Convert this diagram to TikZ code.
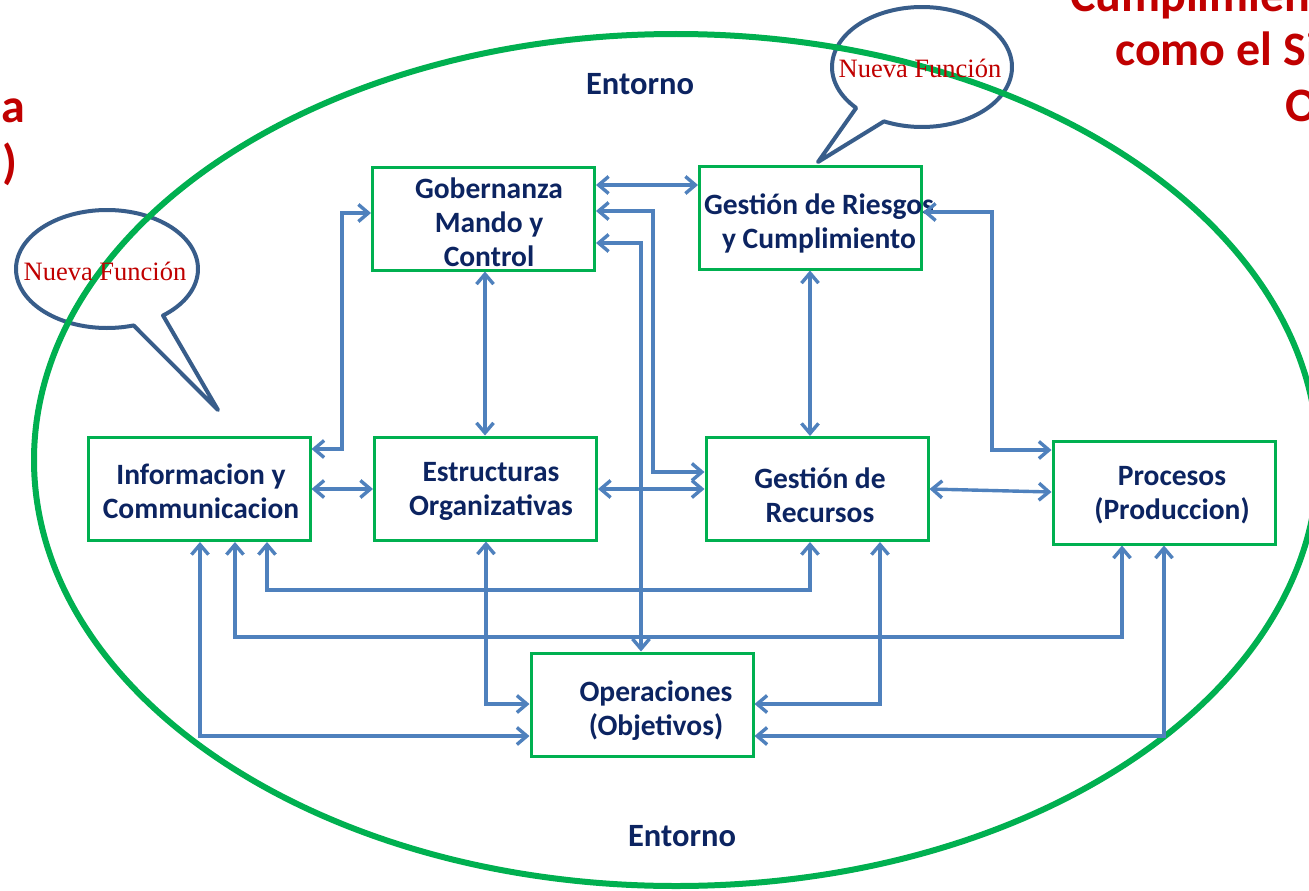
\documentclass[tikz,border=0pt]{standalone}
\usepackage{fontspec}
\setmainfont{Carlito}
\newfontfamily\tnrfont{Liberation Serif}
\usetikzlibrary{arrows.meta}
\definecolor{boxgreen}{HTML}{00B050}
\definecolor{arrblue}{HTML}{4F81BD}
\definecolor{navy}{HTML}{0C2461}
\definecolor{calloutblue}{HTML}{385D8A}
\definecolor{darkred}{HTML}{C00000}
\tikzset{
  box/.style={draw=boxgreen, line width=3pt, minimum width=222pt, minimum height=103pt, inner sep=0pt},
  lbl/.style={text=navy, font=\bfseries\fontsize{29.5}{34}\selectfont, align=center, inner sep=0pt},
  env/.style={text=navy, font=\bfseries\fontsize{32.5}{38}\selectfont, inner sep=0pt},
  dbl/.style={draw=arrblue, line width=3.4pt, line join=miter,
    {Straight Barb[length=10pt,width=17pt]}-{Straight Barb[length=10pt,width=17pt]}},
  callout/.style={draw=calloutblue, line width=4pt, line join=round},
  nf/.style={text=darkred, font=\tnrfont\fontsize{26.5}{30}\selectfont, inner sep=0pt},
  frag/.style={text=darkred, font=\bfseries\fontsize{48}{55}\selectfont, inner sep=0pt, anchor=base west}
}
\begin{document}
\begin{tikzpicture}[x=1pt,y=-1pt]
\useasboundingbox (0,0) rectangle (1309,891);
\clip (0,0) rectangle (1309,891);
\fill[white] (0,0) rectangle (1309,891);

% red text fragments (cut by the frame)
\node[frag] (r1) at (1070,12) {Cumplimien};
\node[frag] (r2) at (1115,66) {como el Si};
\node[frag] (r3) at (1285,121) {O};
\node[frag] (l1) at (1,122) {a};
\node[frag] (l2) at (2,178) {)};

% callouts
\draw[callout] plot[domain=73:412, samples=120, smooth] ({107+91*cos(\x)}, {269+59*sin(\x)}) -- (218,410) -- cycle;
\draw[callout] plot[domain=137:475, samples=120, smooth] ({922+90*cos(\x)}, {67+60*sin(\x)}) -- (818,162) -- cycle;

% environment ellipse
\draw[boxgreen, line width=6pt] (676,460) ellipse [x radius=642pt, y radius=426pt];

\node[nf] (nf1) at (105,271) {Nueva Función};
\node[nf] (nf2) at (920,68) {Nueva Función};

\node[env] (ent1) at (640,84) {Entorno};
\node[env] (ent2) at (682,836) {Entorno};

% boxes
\node[box] (gob) at (483.5,218.5) {};
\node[box] (rie) at (810.5,217.5) {};
\node[box] (inf) at (199,489) {};
\node[box] (est) at (485.5,488.5) {};
\node[box] (rec) at (817,489) {};
\node[box] (pro) at (1164,492.5) {};
\node[box] (ope) at (642,704.5) {};

\node[lbl] (gobT) at (489,222) {Gobernanza\\Mando y\\Control};
\node[lbl] (rieT) at (819,223) {Gestión de Riesgos\\ y Cumplimiento};
\node[lbl] (infT) at (201,491) {Informacion y\\Communicacion};
\node[lbl] (estT) at (491,491) {Estructuras\\Organizativas};
\node[lbl] (recT) at (820,495) {Gestión de\\Recursos};
\node[lbl] (proT) at (1172,495) {Procesos\\(Produccion)};
\node[lbl] (opeT) at (656,711) {Operaciones\\(Objetivos)};

% connectors
\draw[dbl] (gob.east |- 0,185) -- (rie.west |- 0,185);
\draw[dbl] (gob.east |- 0,211) -- (653,211) -- (653,472) -- (rec.west |- 0,472);
\draw[dbl] (gob.east |- 0,243) -- (641,243) -- (ope.north -| 641,0);
\draw[dbl] (gob.south -| 485,0) -- (est.north -| 485,0);
\draw[dbl] (inf.east |- 0,449) -- (342,449) -- (342,213) -- (gob.west |- 0,213);
\draw[dbl] (inf.east |- 0,489) -- (est.west |- 0,489);
\draw[dbl] (est.east |- 0,489) -- (rec.west |- 0,489);
\draw[dbl] (rie.south -| 810,0) -- (rec.north -| 810,0);
\draw[dbl] (rie.east |- 0,212) -- (992,212) -- (992,450) -- (pro.west |- 0,450);
\draw[dbl] (rec.east |- 0,489) -- (pro.west |- 0,492);
\draw[dbl] (inf.south -| 267,0) -- (267,590) -- (810,590) -- (rec.south -| 810,0);
\draw[dbl] (inf.south -| 235,0) -- (235,637) -- (1122,637) -- (pro.south -| 1122,0);
\draw[dbl] (inf.south -| 200,0) -- (200,736) -- (ope.west |- 0,736);
\draw[dbl] (est.south -| 486,0) -- (486,704) -- (ope.west |- 0,704);
\draw[dbl] (rec.south -| 880,0) -- (880,704) -- (ope.east |- 0,704);
\draw[dbl] (pro.south -| 1164,0) -- (1164,736) -- (ope.east |- 0,736);
\end{tikzpicture}
\end{document}
